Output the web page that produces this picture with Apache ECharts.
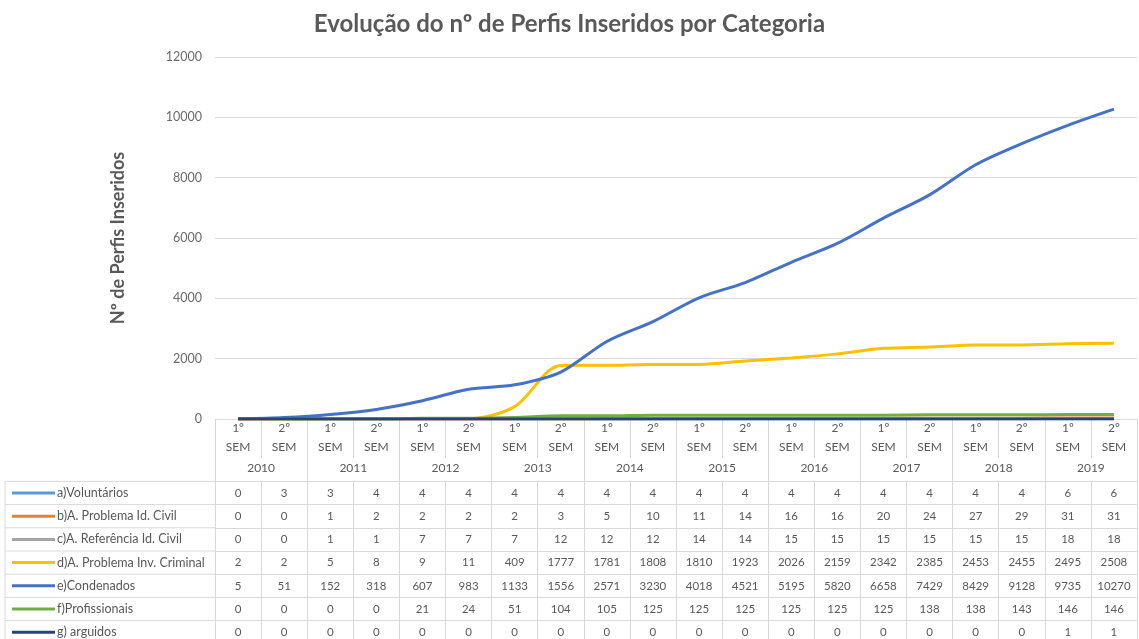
<!DOCTYPE html>
<html><head><meta charset="utf-8">
<script src="https://cdn.jsdelivr.net/npm/echarts@6/dist/echarts.min.js"></script>
<style>html,body{margin:0;padding:0;background:#fff}#c{width:1139px;height:639px}</style>
</head><body><div id="c"></div>
<script>
const categories = ['1º\nSEM','2º\nSEM','1º\nSEM','2º\nSEM','1º\nSEM','2º\nSEM','1º\nSEM','2º\nSEM','1º\nSEM','2º\nSEM',
                    '1º\nSEM','2º\nSEM','1º\nSEM','2º\nSEM','1º\nSEM','2º\nSEM','1º\nSEM','2º\nSEM','1º\nSEM','2º\nSEM'];
const years = ['2010','2011','2012','2013','2014','2015','2016','2017','2018','2019'];
const seriesNames = ['a)Voluntários','b)A. Problema Id. Civil','c)A. Referência Id. Civil','d)A. Problema Inv. Criminal','e)Condenados','f)Profissionais','g) arguidos'];
const voluntarios   = [0,3,3,4,4,4,4,4,4,4,4,4,4,4,4,4,4,4,6,6];
const probIdCivil   = [0,0,1,2,2,2,2,3,5,10,11,14,16,16,20,24,27,29,31,31];
const refIdCivil    = [0,0,1,1,7,7,7,12,12,12,14,14,15,15,15,15,15,15,18,18];
const probInvCrim   = [2,2,5,8,9,11,409,1777,1781,1808,1810,1923,2026,2159,2342,2385,2453,2455,2495,2508];
const condenados    = [5,51,152,318,607,983,1133,1556,2571,3230,4018,4521,5195,5820,6658,7429,8429,9128,9735,10270];
const profissionais = [0,0,0,0,21,24,51,104,105,125,125,125,125,125,125,138,138,143,146,146];
const arguidos      = [0,0,0,0,0,0,0,0,0,0,0,0,0,0,0,0,0,0,1,1];
const seriesColors = ['#5B9BD5','#ED7D31','#A5A5A5','#FFC000','#4472C4','#70AD47','#264478'];
const yMin = 0, yMax = 12000, yStep = 2000;

const allData = [voluntarios, probIdCivil, refIdCivil, probInvCrim, condenados, profissionais, arguidos];

const W = 1139, H = 639;
const GRID_LEFT = 215, GRID_RIGHT = 2, GRID_TOP = 57, GRID_BOTTOM = 220;
const AXIS_Y = H - GRID_BOTTOM;
const HEADER_H = 62.4, ROW_H = 23.2;
const GRIDC = '#D9D9D9', TXT = '#595959';
const FONT = 'Lato, "Open Sans", sans-serif';

const xAxes = [
  { type:'category', data:categories, gridIndex:0, boundaryGap:true, position:'bottom',
    axisLine:{show:true, lineStyle:{color:GRIDC}},
    axisTick:{show:true, interval:0, length:39, lineStyle:{color:GRIDC}},
    axisLabel:{interval:0, margin:0, lineHeight:19, fontSize:12, color:TXT, fontFamily:FONT} },
  { type:'category', data:years, gridIndex:0, boundaryGap:true, position:'bottom', offset:0,
    axisLine:{show:false},
    axisTick:{show:true, interval:0, length:HEADER_H, lineStyle:{color:GRIDC}},
    axisLabel:{interval:0, margin:49, verticalAlign:'middle', fontSize:12, color:TXT, fontFamily:FONT} }
];
allData.forEach((arr, k) => {
  xAxes.push({ type:'category', data:arr.map(String), gridIndex:0, boundaryGap:true, position:'bottom',
    offset: HEADER_H + k*ROW_H,
    axisLine:{show:true, lineStyle:{color:GRIDC}},
    axisTick:{show:true, interval:0, length:ROW_H, lineStyle:{color:GRIDC}},
    axisLabel:{interval:0, margin:ROW_H/2, verticalAlign:'middle', fontSize:11.5, color:TXT, fontFamily:FONT} });
});

const graphics = [];
for (let k = 0; k <= allData.length; k++) {
  const y = AXIS_Y + HEADER_H + k*ROW_H;
  graphics.push({type:'line', shape:{x1:5, y1:y, x2:GRID_LEFT, y2:y}, style:{stroke:GRIDC, lineWidth:1}});
}
graphics.push({type:'line', shape:{x1:5, y1:AXIS_Y+HEADER_H, x2:5, y2:H}, style:{stroke:GRIDC, lineWidth:1}});
seriesNames.forEach((n, k) => {
  const cy = AXIS_Y + HEADER_H + (k+0.5)*ROW_H;
  graphics.push({type:'line', shape:{x1:12, y1:cy, x2:55, y2:cy}, style:{stroke:seriesColors[k], lineWidth:3}});
  graphics.push({type:'text', x:57, y:cy, style:{text:n, fill:TXT, fontSize:12.5, fontFamily:FONT, verticalAlign:'middle', align:'left'}});
});

const option = {
  animation:false,
  backgroundColor:'#fff',
  title:{ text:'Evolução do nº de Perfis Inseridos por Categoria', left:'center', top:7,
    textStyle:{fontSize:24, fontWeight:'bold', color:TXT, fontFamily:FONT} },
  grid:{ left:GRID_LEFT, right:GRID_RIGHT, top:GRID_TOP, bottom:GRID_BOTTOM, containLabel:false },
  xAxis: xAxes,
  yAxis:{ type:'value', min:yMin, max:yMax, interval:yStep,
    name:'Nº de Perfis Inseridos', nameLocation:'middle', nameGap:88,
    nameTextStyle:{fontSize:18, fontWeight:'bold', color:TXT, fontFamily:FONT},
    axisLine:{show:false}, axisTick:{show:false},
    axisLabel:{fontSize:12.5, color:'#6A6A6A', margin:13, fontFamily:FONT, formatter:v => String(v)},
    splitLine:{lineStyle:{color:GRIDC}} },
  graphic: graphics,
  series: allData.map((d, k) => ({
    name: seriesNames[k], type:'line', xAxisIndex:0, data:d, smooth:0.3,
    showSymbol:false, lineStyle:{width:3, color:seriesColors[k]}, itemStyle:{color:seriesColors[k]}
  }))
};
const chart = echarts.init(document.getElementById('c'), null, {renderer:'canvas'});
chart.setOption(option);
</script></body></html>
